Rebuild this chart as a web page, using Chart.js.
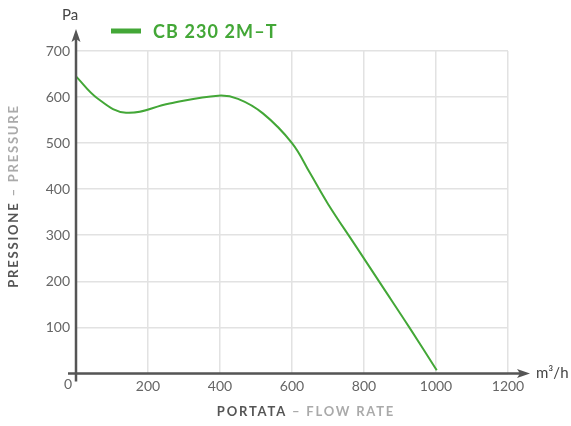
<!DOCTYPE html>
<html>
<head>
<meta charset="utf-8">
<script src="https://cdn.jsdelivr.net/npm/chart.js@4"></script>
<style>
  html, body { margin: 0; padding: 0; background: #fff; }
  #wrap { width: 571px; height: 426px; position: relative; }
</style>
</head>
<body>
<div id="wrap"><canvas id="chart"></canvas></div>
<script>
// valori
const seriesName = 'CB 230 2M–T';
const flowRate = [0, 60, 139, 260, 395, 450, 520, 600, 650, 700, 775, 850, 925, 1002];
const pressure = [645, 597, 566, 586, 603, 596, 564, 500, 435, 368, 279, 190, 101, 7];
const xTicks = [0, 200, 400, 600, 800, 1000, 1200];
const yTicks = [0, 100, 200, 300, 400, 500, 600, 700];

const GREEN = '#43a737';
const AXIS = '#555555';

// assi con frecce, titoli e legenda disegnati a mano
const axesPlugin = {
    id: 'axesPlugin',
    afterDraw(chart) {
        const { ctx, chartArea: a } = chart;
        ctx.save();
        ctx.strokeStyle = AXIS;
        ctx.fillStyle = AXIS;
        ctx.lineWidth = 2.5;
        // asse Y
        ctx.beginPath();
        ctx.moveTo(a.left, a.bottom + 8);
        ctx.lineTo(a.left, 36);
        ctx.stroke();
        ctx.beginPath();
        ctx.moveTo(a.left, 29);
        ctx.lineTo(a.left - 4.5, 42);
        ctx.lineTo(a.left, 39);
        ctx.lineTo(a.left + 4.5, 42);
        ctx.closePath();
        ctx.fill();
        // asse X
        ctx.beginPath();
        ctx.moveTo(a.left - 8, a.bottom);
        ctx.lineTo(522, a.bottom);
        ctx.stroke();
        ctx.beginPath();
        ctx.moveTo(530, a.bottom);
        ctx.lineTo(517, a.bottom - 4.5);
        ctx.lineTo(520, a.bottom);
        ctx.lineTo(517, a.bottom + 4.5);
        ctx.closePath();
        ctx.fill();

        // unità
        ctx.fillStyle = '#444';
        ctx.font = '15px Lato';
        ctx.textBaseline = 'middle';
        ctx.textAlign = 'center';
        ctx.fillText('Pa', a.left - 6, 15);
        ctx.textAlign = 'left';
        ctx.fillText('m³/h', 536, a.bottom);
        // zero
        ctx.fillStyle = '#666';
        ctx.font = '14px Lato';
        ctx.textAlign = 'center';
        ctx.fillText('0', a.left - 8, a.bottom + 11);

        // titoli assi
        const twoTone = (dark, light, cx, cy) => {
            ctx.font = 'bold 13px Lato';
            ctx.letterSpacing = '1.8px';
            ctx.textAlign = 'left';
            const w1 = ctx.measureText(dark).width;
            const w2 = ctx.measureText(light).width;
            const x0 = cx - (w1 + w2) / 2;
            ctx.fillStyle = '#555';
            ctx.fillText(dark, x0, cy);
            ctx.fillStyle = '#aaa';
            ctx.fillText(light, x0 + w1, cy);
        };
        twoTone('PORTATA ', '– FLOW RATE', 306, 412);
        ctx.save();
        ctx.translate(14, 196);
        ctx.rotate(-Math.PI / 2);
        twoTone('PRESSIONE ', '– PRESSURE', 0, 0);
        ctx.restore();

        // legenda
        ctx.strokeStyle = GREEN;
        ctx.lineWidth = 5;
        ctx.beginPath();
        ctx.moveTo(111, 31);
        ctx.lineTo(141, 31);
        ctx.stroke();
        ctx.fillStyle = GREEN;
        ctx.font = 'bold 18px Lato';
        ctx.letterSpacing = '1.1px';
        ctx.textAlign = 'left';
        ctx.fillText(seriesName, 153, 32);
        ctx.restore();
    }
};

new Chart(document.getElementById('chart'), {
    type: 'line',
    data: {
        datasets: [{
            label: seriesName,
            data: flowRate.map((x, i) => ({ x: x, y: pressure[i] })),
            borderColor: GREEN,
            borderWidth: 2,
            pointRadius: 0,
            fill: false,
            tension: 0.4
        }]
    },
    options: {
        responsive: true,
        maintainAspectRatio: false,
        animation: false,
        layout: { padding: { left: 0, top: 51, right: 63, bottom: 0 } },
        plugins: { legend: { display: false }, tooltip: { enabled: false } },
        scales: {
            x: {
                type: 'linear',
                min: 0, max: 1200,
                afterBuildTicks: s => { s.ticks = xTicks.map(v => ({ value: v })); },
                afterFit: s => { s.height = 52.6; },
                grid: { color: '#e2e2e2', lineWidth: 1.5, drawTicks: false },
                border: { display: false },
                ticks: {
                    padding: 5,
                    color: '#666',
                    font: { family: 'Lato', size: 14 },
                    maxRotation: 0,
                    callback: v => (v === 0 ? '' : v)
                }
            },
            y: {
                min: 0, max: 700,
                afterBuildTicks: s => { s.ticks = yTicks.map(v => ({ value: v })); },
                afterFit: s => { s.width = 76; },
                grid: { color: '#e2e2e2', lineWidth: 1.5, drawTicks: false },
                border: { display: false },
                ticks: {
                    padding: 6,
                    color: '#666',
                    font: { family: 'Lato', size: 14 },
                    callback: v => (v === 0 ? '' : v)
                }
            }
        }
    },
    plugins: [axesPlugin]
});
</script>
</body>
</html>
